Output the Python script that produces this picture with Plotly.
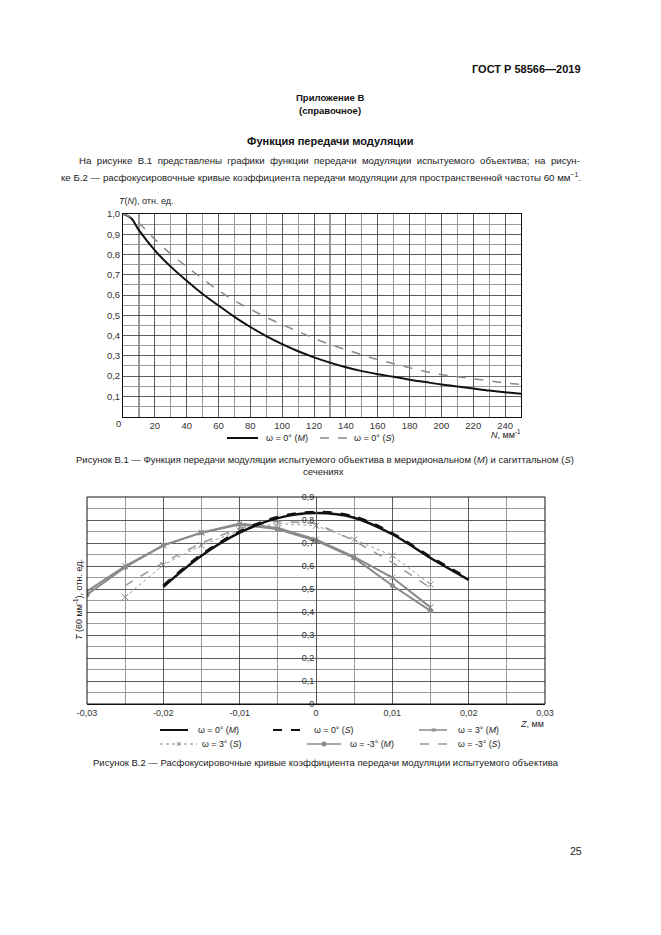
import plotly.graph_objects as go

W, H = 661, 935
def px(x): return x / W
def py(y): return 1 - y / H

# ---------------- Data: Figure B.1 ----------------
N_freq = [0, 5, 10, 20, 30, 40, 50, 60, 70, 80, 90, 100, 110, 120, 130, 140, 150,
          160, 170, 180, 190, 200, 210, 220, 230, 240, 250]
T_M = [1.0, 0.98, 0.92, 0.82, 0.74, 0.67, 0.605, 0.548, 0.492, 0.442, 0.397, 0.357,
       0.322, 0.292, 0.266, 0.243, 0.224, 0.209, 0.196, 0.182, 0.17, 0.158, 0.148,
       0.138, 0.128, 0.12, 0.112]
T_S = [1.0, 0.985, 0.955, 0.875, 0.803, 0.74, 0.68, 0.622, 0.572, 0.53, 0.49, 0.454,
       0.42, 0.386, 0.356, 0.33, 0.305, 0.281, 0.261, 0.241, 0.222, 0.207, 0.196,
       0.186, 0.176, 0.166, 0.158]
x1_ticks = [20, 40, 60, 80, 100, 120, 140, 160, 180, 200, 220, 240]
x1_minor = [10, 30, 50, 70, 90, 110, 130, 150, 170, 190, 210, 230, 250]
y1_ticks = [0.1, 0.2, 0.3, 0.4, 0.5, 0.6, 0.7, 0.8, 0.9, 1.0]
y1_labels = ["0,1", "0,2", "0,3", "0,4", "0,5", "0,6", "0,7", "0,8", "0,9", "1,0"]
y1_minor = [0.05, 0.15, 0.25, 0.35, 0.45, 0.55, 0.65, 0.75, 0.85, 0.95]

# ---------------- Data: Figure B.2 ----------------
Z_0 = [-0.02, -0.015, -0.01, -0.005, 0.0, 0.005, 0.01, 0.015, 0.02]
T0_M = [0.51, 0.645, 0.745, 0.808, 0.83, 0.81, 0.738, 0.635, 0.54]
T0_S = [0.515, 0.65, 0.75, 0.813, 0.835, 0.815, 0.742, 0.64, 0.545]
Z_3M = [-0.03, -0.025, -0.02, -0.015, -0.01, -0.005, 0.0, 0.005, 0.01, 0.015]
T3_M = [0.49, 0.60, 0.69, 0.745, 0.785, 0.765, 0.715, 0.64, 0.55, 0.42]
Z_3S = [-0.025, -0.02, -0.015, -0.01, -0.005, 0.0, 0.005, 0.01, 0.015]
T3_S = [0.465, 0.605, 0.69, 0.755, 0.785, 0.775, 0.715, 0.645, 0.52]
Z_m3M = [-0.03, -0.025, -0.02, -0.015, -0.01, -0.005, 0.0, 0.005, 0.01, 0.015]
Tm3_M = [0.475, 0.595, 0.69, 0.745, 0.78, 0.76, 0.71, 0.635, 0.515, 0.405]
Z_m3S = [-0.025, -0.02, -0.015, -0.01, -0.005, 0.0, 0.005, 0.01, 0.015]
Tm3_S = [0.515, 0.615, 0.70, 0.765, 0.795, 0.785, 0.71, 0.615, 0.505]
x2_ticks = [-0.03, -0.02, -0.01, 0.0, 0.01, 0.02, 0.03]
x2_labels = ["-0,03", "-0,02", "-0,01", "0", "0,01", "0,02", "0,03"]
x2_minor = [-0.025, -0.015, -0.005, 0.005, 0.015, 0.025]
y2_ticks = [0.0, 0.1, 0.2, 0.3, 0.4, 0.5, 0.6, 0.7, 0.8, 0.9]
y2_labels = ["0", "0,1", "0,2", "0,3", "0,4", "0,5", "0,6", "0,7", "0,8", "0,9"]
y2_minor = [0.05, 0.15, 0.25, 0.35, 0.45, 0.55, 0.65, 0.75, 0.85]

FONT = "Liberation Sans"
GRAY = "#8a8a8a"

fig = go.Figure()

# Chart 1 traces
fig.add_trace(go.Scatter(x=N_freq, y=T_M, mode="lines", xaxis="x", yaxis="y",
                         line=dict(color="#111", width=2, shape="spline")))
fig.add_trace(go.Scatter(x=N_freq, y=T_S, mode="lines", xaxis="x", yaxis="y",
                         line=dict(color=GRAY, width=1.5, dash="dash", shape="spline")))

# Chart 2 traces
fig.add_trace(go.Scatter(x=Z_m3S, y=Tm3_S, mode="lines", xaxis="x2", yaxis="y2",
                         line=dict(color="#999", width=1.5, dash="dash")))
fig.add_trace(go.Scatter(x=Z_3S, y=T3_S, mode="lines+markers", xaxis="x2", yaxis="y2",
                         line=dict(color="#999", width=1, dash="dot"),
                         marker=dict(symbol="x-thin", size=6, line=dict(color="#888", width=1))))
fig.add_trace(go.Scatter(x=Z_3M, y=T3_M, mode="lines+markers", xaxis="x2", yaxis="y2",
                         line=dict(color=GRAY, width=2),
                         marker=dict(symbol="x-thin", size=6, line=dict(color="#888", width=1))))
fig.add_trace(go.Scatter(x=Z_m3M, y=Tm3_M, mode="lines+markers", xaxis="x2", yaxis="y2",
                         line=dict(color=GRAY, width=2),
                         marker=dict(symbol="circle", size=5, color=GRAY)))
fig.add_trace(go.Scatter(x=Z_0, y=T0_S, mode="lines", xaxis="x2", yaxis="y2",
                         line=dict(color="#111", width=2.5, dash="dash", shape="spline")))
fig.add_trace(go.Scatter(x=Z_0, y=T0_M, mode="lines", xaxis="x2", yaxis="y2",
                         line=dict(color="#111", width=2.5, shape="spline")))

grid_major = "#333"
grid_minor = "#999"

fig.update_layout(
    width=W, height=H, margin=dict(l=0, r=0, t=0, b=0, pad=0), autosize=False,
    paper_bgcolor="white", plot_bgcolor="white", showlegend=False,
    font=dict(family=FONT, color="#222", size=9.5),
    xaxis=dict(domain=[px(123), px(521)], range=[0, 250], anchor="y", automargin=False,
               showline=True, linecolor="#111", linewidth=1, mirror=True,
               tickvals=x1_ticks, ticktext=[str(v) for v in x1_ticks], ticks="",
               showgrid=True, gridcolor=grid_major, gridwidth=0.8, zeroline=False,
               minor=dict(tickvals=x1_minor, showgrid=True, gridcolor=grid_minor, gridwidth=1.2),
               tickfont=dict(size=9.5, color="#333")),
    yaxis=dict(domain=[py(416.5), py(214)], range=[0, 1.0], anchor="x", automargin=False,
               showline=True, linecolor="#111", linewidth=1, mirror=True,
               tickvals=y1_ticks, ticktext=y1_labels, ticks="",
               showgrid=True, gridcolor=grid_major, gridwidth=0.8, zeroline=False,
               minor=dict(tickvals=y1_minor, showgrid=True, gridcolor=grid_minor, gridwidth=1.2),
               tickfont=dict(size=9.5, color="#333")),
    xaxis2=dict(domain=[px(87), px(545)], range=[-0.03, 0.03], anchor="y2", automargin=False,
                showline=True, linecolor="#111", linewidth=1,
                tickvals=x2_ticks, ticktext=x2_labels, ticks="",
                showgrid=True, gridcolor=grid_major, gridwidth=0.8, zeroline=False,
                minor=dict(tickvals=x2_minor, showgrid=True, gridcolor=grid_minor, gridwidth=1.2),
                tickfont=dict(size=9, color="#333")),
    yaxis2=dict(domain=[py(704), py(497)], range=[0, 0.9], anchor="free", automargin=False,
                position=px(316), showline=True, linecolor="#555", linewidth=1,
                tickvals=y2_ticks, ticktext=y2_labels, ticks="",
                showgrid=True, gridcolor=grid_major, gridwidth=0.8, zeroline=False,
                minor=dict(tickvals=y2_minor, showgrid=True, gridcolor=grid_minor, gridwidth=1),
                tickfont=dict(size=9, color="#333")),
)

# Frame for chart 2
fig.add_shape(type="rect", xref="x2 domain", yref="y2 domain", x0=0, x1=1, y0=0, y1=1,
              line=dict(color="#111", width=1), layer="above")

ann = []
def text(x, y, s, size=9.5, xanchor="left", bold=False, color="#222", textangle=0):
    if bold:
        s = "<b>" + s + "</b>"
    ann.append(dict(x=px(x), y=py(y), xref="paper", yref="paper", text=s, showarrow=False,
                    xanchor=xanchor, yanchor="middle", textangle=textangle,
                    font=dict(size=size, color=color, family=FONT)))

# Header texts
text(583, 69, "ГОСТ Р 58566—2019", size=11, xanchor="right", bold=True, color="#111")
text(330, 97, "Приложение В", size=9.5, xanchor="center", bold=True, color="#111")
text(330, 110, "(справочное)", size=9.5, xanchor="center", bold=True, color="#111")
text(330, 141, "Функция передачи модуляции", size=11, xanchor="center", bold=True, color="#111")
text(77, 161, "На  рисунке  В.1  представлены  графики  функции  передачи  модуляции  испытуемого  объектива;  на  рисун-",
     size=9.7)
text(59, 177, "ке Б.2 — расфокусировочные кривые коэффициента передачи модуляции для пространственной частоты 60 мм<sup>−1</sup>.",
     size=9.7)

# Chart 1 labels
text(117, 201, "<i>T</i>(<i>N</i>), отн. ед.", size=9)
text(118, 423, "0", size=9.5, xanchor="center", color="#333")
text(523, 434, "<i>N</i>, мм<sup>-1</sup>", size=9, xanchor="right")

# Chart 1 legend
fig.add_shape(type="line", xref="paper", yref="paper", x0=px(227), x1=px(258), y0=py(438), y1=py(438),
              line=dict(color="#111", width=2))
text(264, 438, "ω = 0° (<i>M</i>)", size=9)
fig.add_shape(type="line", xref="paper", yref="paper", x0=px(320), x1=px(347), y0=py(438), y1=py(438),
              line=dict(color=GRAY, width=1.5, dash="dash"))
text(352, 438, "ω = 0° (<i>S</i>)", size=9)

# Captions chart 1
text(325, 459, "Рисунок В.1 — Функция передачи модуляции испытуемого объектива в меридиональном (<i>M</i>) и сагиттальном (<i>S</i>)",
     size=9.5, xanchor="center")
text(323, 472, "сечениях", size=9.5, xanchor="center")

# Chart 2 labels
text(78, 600, "<i>T</i> (60 мм<sup>-1</sup>), отн. ед.", size=9, xanchor="center", textangle=-90)
text(546, 724, "<i>Z</i>, мм", size=9, xanchor="right")

# Chart 2 legend
def leg_line(x0, x1, y, color, width, dash="solid"):
    fig.add_shape(type="line", xref="paper", yref="paper", x0=px(x0), x1=px(x1), y0=py(y), y1=py(y),
                  line=dict(color=color, width=width, dash=dash))

r1, r2 = 730, 744
leg_line(160, 188, r1, "#111", 2)
text(196, r1, "ω = 0° (<i>M</i>)", size=8.8)
leg_line(273, 303, r1, "#111", 2, "dash")
text(312, r1, "ω = 0° (<i>S</i>)", size=8.8)
leg_line(419, 447, r1, GRAY, 1.5)
text(433, r1 - 0.5, "×", size=9, xanchor="center", color="#777")
text(456, r1, "ω = 3° (<i>M</i>)", size=8.8)
leg_line(160, 197, r2, "#888", 1, "dot")
text(178, r2 - 0.5, "×", size=9, xanchor="center", color="#777")
text(200, r2, "ω = 3° (<i>S</i>)", size=8.8)
leg_line(307, 341, r2, GRAY, 1.5)
fig.add_shape(type="circle", xref="paper", yref="paper", x0=px(321.5), x1=px(326.5),
              y0=py(746.5), y1=py(741.5), fillcolor=GRAY, line=dict(color=GRAY, width=0))
text(348, r2, "ω = -3° (<i>M</i>)", size=8.8)
leg_line(420, 448, r2, "#999", 1.5, "dash")
text(456, r2, "ω = -3° (<i>S</i>)", size=8.8)

# Caption chart 2
text(326, 762, "Рисунок В.2 — Расфокусировочные кривые коэффициента передачи модуляции испытуемого объектива",
     size=9.5, xanchor="center")

# Page number
text(576, 851, "25", size=10.5, xanchor="center")

fig.update_layout(annotations=ann)
fig.write_html("out.html", config={"displayModeBar": False, "staticPlot": True},
               post_script="document.body.style.margin='0';document.body.style.overflow='hidden';")
